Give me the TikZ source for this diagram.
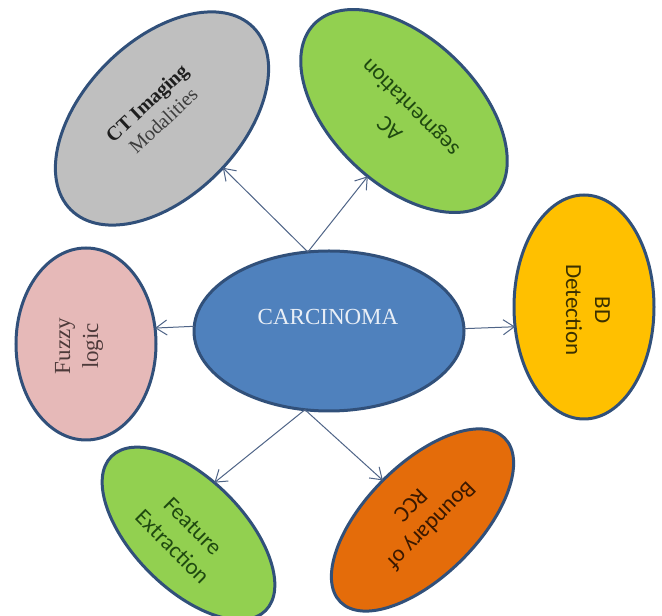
\documentclass[tikz,border=0pt]{standalone}
\usepackage{fontspec}
\setmainfont{Liberation Serif}
\newfontfamily\calfont{Carlito}
\usetikzlibrary{shapes.geometric,arrows.meta}
\definecolor{outl}{HTML}{31507A}
\definecolor{arrc}{HTML}{4F6487}
\definecolor{cblue}{HTML}{4F81BD}
\definecolor{cgray}{HTML}{BFBFBF}
\definecolor{cgreen}{HTML}{92D050}
\definecolor{cyellow}{HTML}{FFC000}
\definecolor{cpink}{HTML}{E6B9B8}
\definecolor{corange}{HTML}{E46C0A}
\definecolor{cwhite}{HTML}{E8EEF6}
\definecolor{fztext}{HTML}{4D3A3A}
\definecolor{bdtext}{HTML}{3A3000}
\definecolor{gtext}{HTML}{1F4A10}
\definecolor{rtext}{HTML}{3A1800}
\definecolor{cttext}{HTML}{1E1E1E}
\definecolor{ctgray}{HTML}{3C3C3C}
\begin{document}
\begin{tikzpicture}[x=1pt,y=1pt,
  blob/.style={ellipse,draw=outl,line width=3pt,inner sep=0pt,outer sep=0pt},
  conn/.style={draw=arrc,line width=1pt,-{Straight Barb[length=11pt,width=15pt]}},
  lbl/.style={align=center,inner sep=0pt,font=\fontsize{23}{28}\selectfont},
  slbl/.style={align=center,inner sep=0pt,font=\calfont\fontsize{23}{29}\selectfont}]
\fill[white] (0,0) rectangle (662,616);
\useasboundingbox (0,0) rectangle (662,616);

% ellipses
\node[blob,fill=cblue,minimum width=270pt,minimum height=160pt] (c) at (329,285) {};
\node[blob,fill=cpink,minimum width=140pt,minimum height=192pt] (fz) at (86,272) {};
\node[blob,fill=cyellow,minimum width=140pt,minimum height=224pt] (bd) at (584,309) {};
\node[blob,fill=cgray,minimum width=258pt,minimum height=156pt,rotate=45] (ct) at (162,497.5) {};
\node[blob,fill=cgreen,minimum width=250pt,minimum height=146pt,rotate=-44] (ac) at (404,505) {};
\node[blob,fill=cgreen,minimum width=218pt,minimum height=110pt,rotate=-45] (fe) at (188.5,82.5) {};
\node[blob,fill=corange,minimum width=232pt,minimum height=112pt,rotate=45] (rcc) at (422.5,96) {};

% connectors
\draw[conn] (c.105.6) -- (ct.-84.5);
\draw[conn] (c.105.6) -- (ac.-75.6);
\draw[conn] (c.178.3) -- (fz.13.7);
\draw[conn] (c.1.7) -- (bd.196);
\draw[conn] (c.253.5) -- (fe.108.6);
\draw[conn] (c.253.5) -- (rcc.90.4);

% labels
\node[lbl,text=cwhite] (tc) at (328,299) {CARCINOMA};
\node[lbl,text=fztext,rotate=90] (tfz) at (79,270) {Fuzzy\\logic};
\node[slbl,text=bdtext,rotate=-90] (tbd) at (588,306) {BD\\Detection};
\node[align=center,inner sep=0pt,font=\fontsize{20}{24}\selectfont,rotate=43,text=cttext] (tct) at (155,504) {\textbf{CT Imaging}\\\textcolor{ctgray}{Modalities}};
\node[slbl,text=gtext,rotate=135] (tac) at (401,499) {AC\\segmentation};
\node[slbl,text=gtext,rotate=-45] (tfe) at (182.5,79.5) {Feature\\Extraction};
\node[slbl,text=rtext,rotate=-135] (trc) at (421.5,100) {Boundary of\\RCC};
\end{tikzpicture}
\end{document}
